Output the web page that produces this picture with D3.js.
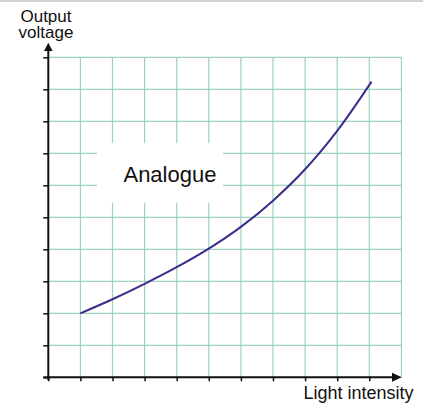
<!DOCTYPE html>
<html>
<head>
<meta charset="utf-8">
<script src="https://cdn.jsdelivr.net/npm/d3@7"></script>
<style>
  html, body { margin: 0; padding: 0; background: #fff; }
  svg { display: block; font-family: "Liberation Sans", Arial, sans-serif; }
</style>
</head>
<body>
<svg id="chart" width="423" height="403"></svg>
<script>
// ---- data ----
const intensity = [1, 2, 3, 4, 5, 6, 7, 8, 9, 10.07];
const voltage   = [2.0, 2.44, 2.92, 3.44, 4.02, 4.70, 5.52, 6.50, 7.70, 9.24];
const xGridUnits = [1, 2, 3, 4, 5, 6, 7, 8, 9, 10, 11];
const yGridUnits = [1, 2, 3, 4, 5, 6, 7, 8, 9, 10];
const xTickUnits = [0, 1, 2, 3, 4, 5, 6, 7, 8, 9, 10];
const yTickUnits = [0, 1, 2, 3, 4, 5, 6, 7, 8, 9, 10];
const yTitleLines = ["Output", "voltage"];
const xTitle = "Light intensity";
const curveLabel = "Analogue";

// ---- chart ----
const svg = d3.select("#chart");
const W = 423, H = 403;
const x = d3.scaleLinear().domain([0, 11]).range([48.3, 401.4]);
const y = d3.scaleLinear().domain([0, 10]).range([377.3, 57.3]);

// top border strip
svg.append("rect").attr("x", 0).attr("y", 0).attr("width", W).attr("height", 2).attr("fill", "#d2d2d2");

const gridColor = "#9fd0bf";
const grid = svg.append("g").attr("stroke", gridColor).attr("stroke-width", 1.2);
grid.selectAll("line.v").data(xGridUnits).join("line")
  .attr("x1", d => x(d)).attr("x2", d => x(d))
  .attr("y1", y(10)).attr("y2", y(0));
grid.selectAll("line.h").data(yGridUnits).join("line")
  .attr("x1", x(0)).attr("x2", x(11))
  .attr("y1", d => y(d)).attr("y2", d => y(d));

// white label box
const bx0 = x(1.52), bx1 = x(5.44), by0 = y(7.32), by1 = y(5.45);
svg.append("rect").attr("x", bx0).attr("y", by0)
  .attr("width", bx1 - bx0).attr("height", by1 - by0).attr("fill", "#fff");
svg.append("text").attr("x", x(3.79)).attr("y", y(6.1))
  .attr("text-anchor", "middle").attr("font-size", 22).attr("fill", "#111")
  .text(curveLabel);

// curve
const pts = intensity.map((d, i) => [d, voltage[i]]);
svg.append("path").datum(pts)
  .attr("fill", "none").attr("stroke", "#3d2c8d").attr("stroke-width", 2)
  .attr("d", d3.line().x(d => x(d[0])).y(d => y(d[1])).curve(d3.curveCatmullRom.alpha(0.5)));

// axes ticks
const yAxis = d3.axisLeft(y).tickValues(yTickUnits).tickSize(5).tickSizeOuter(0).tickFormat("");
const gy = svg.append("g").attr("transform", `translate(${x(0)},0)`).call(yAxis);
gy.select(".domain").remove();
gy.selectAll(".tick line").attr("stroke", "#111").attr("stroke-width", 1.5);

const xAxis = d3.axisBottom(x).tickValues(xTickUnits).tickSize(4).tickSizeOuter(0).tickFormat("");
const gx = svg.append("g").attr("transform", `translate(0,${y(0)})`).call(xAxis);
gx.select(".domain").remove();
gx.selectAll(".tick line").attr("stroke", "#111").attr("stroke-width", 1.5);

// axis lines with arrows
svg.append("line").attr("x1", x(0)).attr("x2", x(0)).attr("y1", y(0) + 3).attr("y2", 50)
  .attr("stroke", "#111").attr("stroke-width", 2);
svg.append("path").attr("d", `M${x(0)},42.7 L${x(0) - 4.3},51 L${x(0) + 4.3},51 Z`).attr("fill", "#111");

svg.append("line").attr("x1", x(0) - 5).attr("x2", 393).attr("y1", y(0)).attr("y2", y(0))
  .attr("stroke", "#111").attr("stroke-width", 2);
svg.append("path").attr("d", `M401.8,${y(0)} L392,${y(0) - 4.5} L392,${y(0) + 4.5} Z`).attr("fill", "#111");

// titles
svg.append("g").selectAll("text").data(yTitleLines).join("text")
  .attr("x", 46).attr("y", (d, i) => 22 + i * 16)
  .attr("text-anchor", "middle").attr("font-size", 17).attr("fill", "#111")
  .text(d => d);
svg.append("text").attr("x", 413.5).attr("y", 399)
  .attr("text-anchor", "end").attr("font-size", 18).attr("fill", "#111")
  .text(xTitle);
</script>
</body>
</html>
